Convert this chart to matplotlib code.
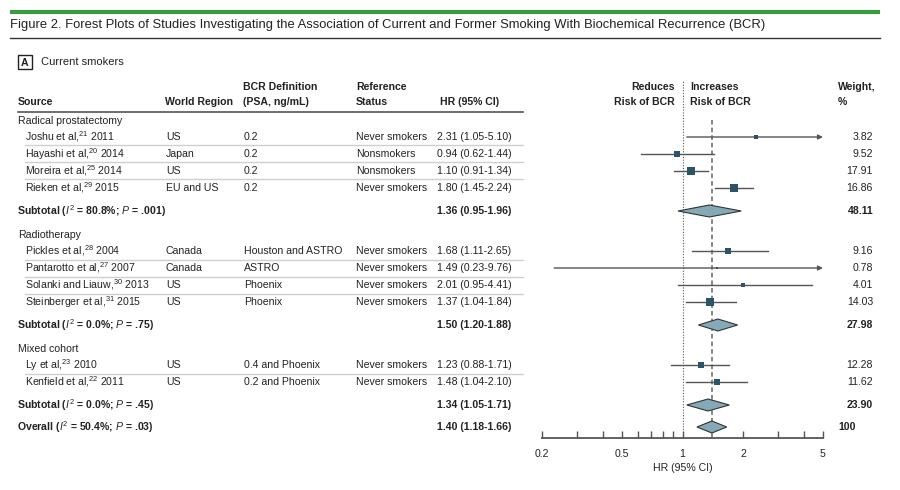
import matplotlib
matplotlib.use("Agg")
import matplotlib.pyplot as plt
from matplotlib.patches import Polygon, Rectangle

FONT = ["Liberation Sans", "DejaVu Sans"]
plt.rcParams["font.family"] = FONT
plt.rcParams["mathtext.fontset"] = "custom"
plt.rcParams["mathtext.rm"] = FONT[0]
plt.rcParams["mathtext.it"] = FONT[0] + ":italic"
plt.rcParams["mathtext.bf"] = FONT[0] + ":bold"

# ---- data ----
groups = ["Radical prostatectomy", "Radiotherapy", "Mixed cohort"]

sources = [
    ["Joshu et al,$^{21}$ 2011", "Hayashi et al,$^{20}$ 2014",
     "Moreira et al,$^{25}$ 2014", "Rieken et al,$^{29}$ 2015"],
    ["Pickles et al,$^{28}$ 2004", "Pantarotto et al,$^{27}$ 2007",
     "Solanki and Liauw,$^{30}$ 2013", "Steinberger et al,$^{31}$ 2015"],
    ["Ly et al,$^{23}$ 2010", "Kenfield et al,$^{22}$ 2011"],
]
regions = [
    ["US", "Japan", "US", "EU and US"],
    ["Canada", "Canada", "US", "US"],
    ["US", "US"],
]
bcr_defs = [
    ["0.2", "0.2", "0.2", "0.2"],
    ["Houston and ASTRO", "ASTRO", "Phoenix", "Phoenix"],
    ["0.4 and Phoenix", "0.2 and Phoenix"],
]
ref_status = [
    ["Never smokers", "Nonsmokers", "Nonsmokers", "Never smokers"],
    ["Never smokers", "Never smokers", "Never smokers", "Never smokers"],
    ["Never smokers", "Never smokers"],
]
hr = [[2.31, 0.94, 1.10, 1.80], [1.68, 1.49, 2.01, 1.37], [1.23, 1.48]]
lo = [[1.05, 0.62, 0.91, 1.45], [1.11, 0.23, 0.95, 1.04], [0.88, 1.04]]
hi = [[5.10, 1.44, 1.34, 2.24], [2.65, 9.76, 4.41, 1.84], [1.71, 2.10]]
weights = [[3.82, 9.52, 17.91, 16.86], [9.16, 0.78, 4.01, 14.03], [12.28, 11.62]]

sub_labels = [
    "Subtotal ($I^2$ = 80.8%; $P$ = .001)",
    "Subtotal ($I^2$ = 0.0%; $P$ = .75)",
    "Subtotal ($I^2$ = 0.0%; $P$ = .45)",
]
sub_hr = [1.36, 1.50, 1.34]
sub_lo = [0.95, 1.20, 1.05]
sub_hi = [1.96, 1.88, 1.71]
sub_w = ["48.11", "27.98", "23.90"]

overall_label = "Overall ($I^2$ = 50.4%; $P$ = .03)"
overall_hr, overall_lo, overall_hi = 1.40, 1.18, 1.66

xticks_major = [0.2, 0.5, 1, 2, 5]
xticks_minor = [0.3, 0.4, 0.6, 0.7, 0.8, 0.9, 3, 4]
XMIN, XMAX = 0.2, 5

TXT = "#222222"
SQ = "#2b5566"
DIA = "#84a9b7"
CI = "#555555"
FS = 7.6

W, H = 900, 490
fig = plt.figure(figsize=(9, 4.9), dpi=100)
bg = fig.add_axes([0, 0, 1, 1])
bg.set_xlim(0, W)
bg.set_ylim(H, 0)
bg.axis("off")

# forest axes in the same pixel y-units
fx0, fx1, fy0, fy1 = 542, 823, 80, 438
fa = fig.add_axes([fx0 / W, 1 - fy1 / H, (fx1 - fx0) / W, (fy1 - fy0) / H])
fa.set_xscale("log")
fa.set_xlim(XMIN, XMAX)
fa.set_ylim(fy1, fy0)
fa.patch.set_alpha(0)
for s in ["top", "left", "right"]:
    fa.spines[s].set_visible(False)
fa.spines["bottom"].set_color("#555555")
fa.spines["bottom"].set_linewidth(1.3)
fa.set_yticks([])
fa.set_xticks(xticks_major)
fa.set_xticklabels([f"{t:g}" for t in xticks_major], fontsize=FS, color=TXT)
fa.set_xticks(xticks_minor, minor=True)
fa.set_xticklabels([], minor=True)
fa.tick_params(axis="x", which="both", direction="in", length=5, width=1,
               color="#555555", pad=8)
fa.set_xlabel("HR (95% CI)", fontsize=FS, color=TXT, labelpad=3)

# title block
bg.plot([10, 880], [12, 12], color="#3a9a40", lw=3, solid_capstyle="butt")
bg.text(10, 25, "Figure 2. Forest Plots of Studies Investigating the Association of "
        "Current and Former Smoking With Biochemical Recurrence (BCR)",
        fontsize=9.4, va="center", ha="left", color=TXT)
bg.plot([10, 880], [38, 38], color="#333333", lw=1)
bg.add_patch(Rectangle((18, 55), 14, 14, fill=False, ec="#222222", lw=1))
bg.text(25, 62.5, "A", fontsize=FS, weight="bold", ha="center", va="center", color=TXT)
bg.text(41, 62, "Current smokers", fontsize=8, va="center", color=TXT)

# column headers
hdr = dict(fontsize=FS, weight="bold", va="center", color=TXT)
bg.text(18, 102, "Source", **hdr)
bg.text(165, 102, "World Region", **hdr)
bg.text(243, 87, "BCR Definition", **hdr)
bg.text(243, 102, "(PSA, ng/mL)", **hdr)
bg.text(356, 87, "Reference", **hdr)
bg.text(356, 102, "Status", **hdr)
bg.text(440, 102, "HR (95% CI)", **hdr)
bg.text(675, 87, "Reduces", ha="right", **hdr)
bg.text(675, 102, "Risk of BCR", ha="right", **hdr)
bg.text(690, 87, "Increases", ha="left", **hdr)
bg.text(690, 102, "Risk of BCR", ha="left", **hdr)
bg.text(838, 87, "Weight,", **hdr)
bg.text(838, 102, "%", **hdr)
bg.plot([18, 523], [112, 112], color="#555555", lw=1.2)

# reference lines
fa.axvline(1, color="#555555", lw=0.8, ls=(0, (1, 1.5)))
fa.plot([overall_hr, overall_hr], [120, fy1], color="#666666", lw=1.1,
        ls=(0, (3, 2)), zorder=1)

row = dict(fontsize=FS, va="center", color=TXT)
bold = dict(fontsize=FS, va="center", color=TXT, weight="bold")


def diamond(y, c, l, h):
    dy = 6
    pts = [(l, y), (c, y - dy), (h, y), (c, y + dy)]
    fa.add_patch(Polygon(pts, closed=True, fc=DIA, ec="#333333", lw=0.8, zorder=3))


y = 121
for g in range(len(groups)):
    bg.text(18, y, groups[g], **row)
    y += 16
    n = len(sources[g])
    for i in range(n):
        bg.text(25, y, sources[g][i], **row)
        bg.text(166, y, regions[g][i], **row)
        bg.text(244, y, bcr_defs[g][i], **row)
        bg.text(356, y, ref_status[g][i], **row)
        bg.text(437, y, f"{hr[g][i]:.2f} ({lo[g][i]:.2f}-{hi[g][i]:.2f})", **row)
        bg.text(873, y, f"{weights[g][i]:.2f}", ha="right", **row)
        if i < n - 1:
            bg.plot([25, 523], [y + 8.5, y + 8.5], color="#cfcfcf", lw=1)
        l, h = max(lo[g][i], XMIN), min(hi[g][i], XMAX)
        if hi[g][i] > XMAX:
            fa.annotate("", xy=(XMAX, y), xytext=(l, y),
                        arrowprops=dict(arrowstyle="-|>", color=CI, lw=1,
                                        mutation_scale=7, shrinkA=0, shrinkB=0),
                        annotation_clip=False, zorder=2)
        else:
            fa.plot([l, h], [y, y], color=CI, lw=1, zorder=2)
        fa.scatter([hr[g][i]], [y], marker="s", s=1.9 * weights[g][i],
                   color=SQ, lw=0, zorder=4)
        if i < n - 1:
            y += 17
    y += 23
    bg.text(17, y, sub_labels[g], **bold)
    bg.text(437, y, f"{sub_hr[g]:.2f} ({sub_lo[g]:.2f}-{sub_hi[g]:.2f})", **bold)
    bg.text(873, y, sub_w[g], ha="right", **bold)
    diamond(y, sub_hr[g], sub_lo[g], sub_hi[g])
    y += 24 if g < len(groups) - 1 else 22

bg.text(17, y, overall_label, **bold)
bg.text(437, y, f"{overall_hr:.2f} ({overall_lo:.2f}-{overall_hi:.2f})", **bold)
bg.text(838, y, "100", ha="left", **bold)
diamond(y, overall_hr, overall_lo, overall_hi)

fig.savefig("out.png", dpi=100)
